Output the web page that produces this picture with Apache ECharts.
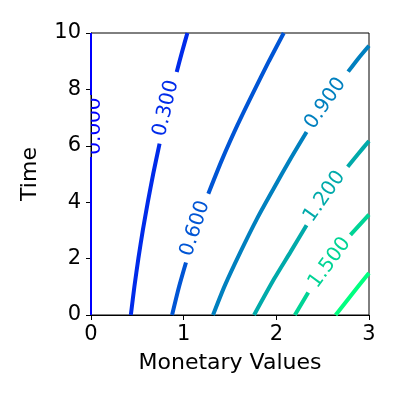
<!DOCTYPE html>
<html>
<head>
<meta charset="utf-8">
<script src="https://cdn.jsdelivr.net/npm/echarts@6/dist/echarts.min.js"></script>
<style>
  html, body { margin: 0; padding: 0; background: #fff; }
  #chart { width: 400px; height: 400px; }
</style>
</head>
<body>
<div id="chart"></div>
<script>
// contour levels, and each traced level line as [money, time] points
// null marks the gap where the inline label sits
var levels = [0, 0.3, 0.6, 0.9, 1.2, 1.5, 1.8];

var line000 = [[0, 0], [0, 5.6], null, [0, 7.8], [0, 10]];
var line030 = [[0.43, 0], [0.468, 1], [0.511, 2], [0.559, 3], [0.613, 4], [0.671, 5], [0.74, 6.08], null,
               [0.925, 8.62], [0.98, 9.3], [1.04, 10]];
var line060 = [[0.875, 0], [0.95, 1], [1.025, 1.86], null, [1.266, 4.3], [1.413, 5.5], [1.58, 6.73],
               [1.745, 7.85], [1.92, 9], [2.08, 10]];
var line090 = [[1.317, 0], [1.445, 1.05], [1.612, 2.23], [1.792, 3.42], [1.97, 4.48], [2.155, 5.55],
               [2.326, 6.49], null, [2.775, 8.63], [2.885, 9.1], [3.0, 9.55]];
var line120 = [[1.76, 0], [1.978, 1.29], [2.152, 2.23], [2.326, 3.18], null, [2.77, 5.26], [2.88, 5.7],
               [3.0, 6.17]];
var line150 = [[2.2, 0], [2.344, 0.8], null, [2.8, 2.84], [3.0, 3.56]];
var line180 = [[2.64, 0], [2.81, 0.71], [3.0, 1.49]];

var contourLines = [line000, line030, line060, line090, line120, line150, line180];

// label centres for the labelled levels (same order as levels; the last level has none)
var labelSpots = [[0.045, 6.7], [0.81, 7.33], [1.125, 3.07], [2.53, 7.5], [2.52, 4.2], [2.576, 1.85]];

var xTicks = [0, 1, 2, 3];
var yTicks = [0, 2, 4, 6, 8, 10];

// matplotlib "winter" colormap over the level range
function winter(v) {
    var f = (v - levels[0]) / (levels[levels.length - 1] - levels[0]);
    return 'rgb(0,' + Math.round(255 * f) + ',' + Math.round(255 * (1 - 0.5 * f)) + ')';
}

var font = '"DejaVu Sans", "Liberation Sans", sans-serif';

(function () {
    var myChart = echarts.init(document.getElementById('chart'), null, { renderer: 'canvas' });

    var series = contourLines.map(function (pts, i) {
        return {
            type: 'line',
            name: levels[i].toFixed(3),
            data: pts.map(function (p) { return p ? p : ['-', '-']; }),
            showSymbol: false,
            symbol: 'none',
            smooth: 0.25,
            connectNulls: false,
            clip: true,
            lineStyle: { color: winter(levels[i]), width: i === 0 ? 2 : 4 },
            emphasis: { disabled: true },
            z: 3
        };
    });

    // label data: centre, then the two ends of the gap it sits in, then level index
    var labelData = labelSpots.map(function (s, i) {
        var pts = contourLines[i];
        var k = pts.indexOf(null);
        var a = pts[k - 1], b = pts[k + 1];
        return [s[0], s[1], a[0], a[1], b[0], b[1], i];
    });

    series.push({
        type: 'custom',
        clip: true,
        data: labelData,
        encode: { x: 0, y: 1 },
        z: 4,
        renderItem: function (params, api) {
            var c = api.coord([api.value(0), api.value(1)]);
            var a = api.coord([api.value(2), api.value(3)]);
            var b = api.coord([api.value(4), api.value(5)]);
            var ang = Math.atan2(a[1] - b[1], b[0] - a[0]);
            if (ang > Math.PI / 2) ang -= Math.PI;
            if (ang < -Math.PI / 2) ang += Math.PI;
            var lv = levels[api.value(6)];
            var cs = params.coordSys;
            // keep labels inside the plot box, like the clipped 0.000 label
            return {
                type: 'group',
                clipPath: {
                    type: 'rect',
                    shape: { x: cs.x, y: cs.y, width: cs.width, height: cs.height }
                },
                children: [{
                    type: 'text',
                    x: c[0],
                    y: c[1],
                    rotation: ang,
                    style: {
                        text: lv.toFixed(3),
                        fill: winter(lv),
                        font: '20px ' + font,
                        align: 'center',
                        verticalAlign: 'middle'
                    }
                }]
            };
        }
    });

    var axisCommon = {
        type: 'value',
        nameLocation: 'middle',
        nameTextStyle: { fontSize: 22, color: '#000', fontFamily: font },
        axisLine: { show: true, lineStyle: { color: '#000', width: 1 } },
        axisTick: { show: true, length: 5, lineStyle: { color: '#000', width: 1 } },
        axisLabel: { fontSize: 21, color: '#000', fontFamily: font },
        splitLine: { show: false }
    };

    var option = {
        backgroundColor: '#fff',
        animation: false,
        grid: {
            left: 91,
            right: 31,
            top: 33,
            bottom: 85,
            show: true,
            borderColor: '#000',
            borderWidth: 1,
            containLabel: false,
            outerBoundsMode: 'none'
        },
        xAxis: Object.assign({}, axisCommon, {
            name: 'Monetary Values',
            nameGap: 37,
            min: xTicks[0],
            max: xTicks[xTicks.length - 1],
            interval: xTicks[1] - xTicks[0],
            axisLabel: Object.assign({}, axisCommon.axisLabel, { margin: 9 })
        }),
        yAxis: Object.assign({}, axisCommon, {
            name: 'Time',
            nameGap: 50,
            min: yTicks[0],
            max: yTicks[yTicks.length - 1],
            interval: yTicks[1] - yTicks[0],
            axisLabel: Object.assign({}, axisCommon.axisLabel, { margin: 10 })
        }),
        series: series
    };

    myChart.setOption(option);
    window.addEventListener('resize', function () {
        myChart.resize();
    });
})();
</script>
</body>
</html>
